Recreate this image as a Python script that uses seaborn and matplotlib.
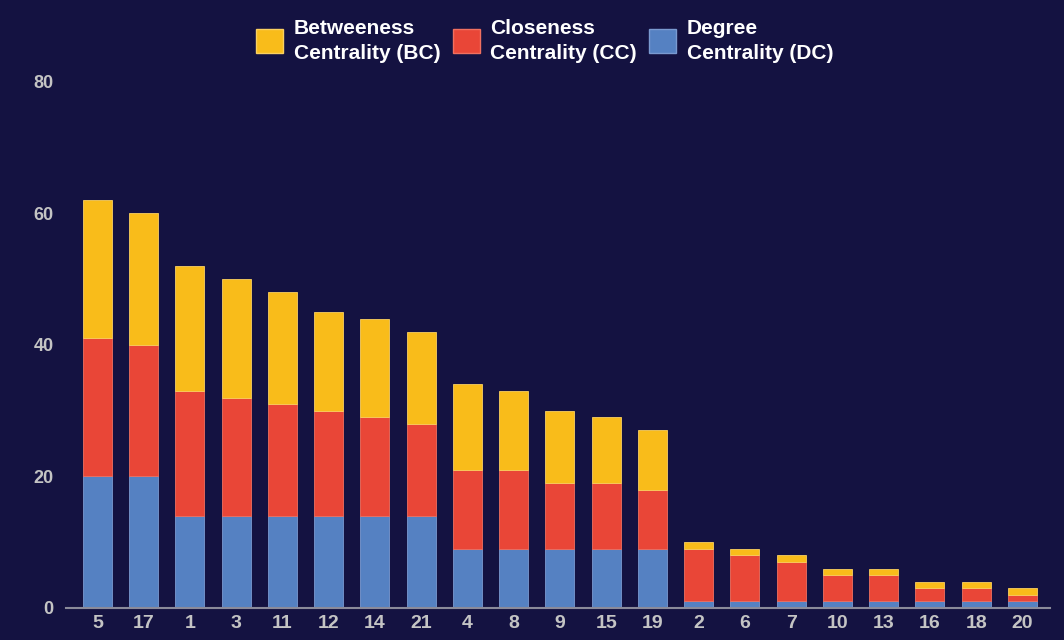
import numpy as np
import pandas as pd
import matplotlib
matplotlib.use('Agg')
import matplotlib.pyplot as plt
from matplotlib.patches import Patch
import seaborn as sns

# 节点编号 + 三种中心性得分
nodes = ['5', '17', '1', '3', '11', '12', '14', '21', '4', '8', '9', '15', '19',
         '2', '6', '7', '10', '13', '16', '18', '20']
dc = [20, 20, 14, 14, 14, 14, 14, 14, 9, 9, 9, 9, 9, 1, 1, 1, 1, 1, 1, 1, 1]
cc = [21, 20, 19, 18, 17, 16, 15, 14, 12, 12, 10, 10, 9, 8, 7, 6, 4, 4, 2, 2, 1]
bc = [21, 20, 19, 18, 17, 15, 15, 14, 13, 12, 11, 10, 9, 1, 1, 1, 1, 1, 1, 1, 1]

bg = '#141241'
c_dc = '#5581c2'
c_cc = '#e94637'
c_bc = '#f9bc1a'

df = pd.DataFrame({'node': nodes, 'DC': dc, 'CC': cc, 'BC': bc})
df['DC_CC'] = df['DC'] + df['CC']

sns.set_style('dark', {'axes.facecolor': bg, 'figure.facecolor': bg})
plt.rcParams['font.family'] = ['Liberation Sans', 'DejaVu Sans']

fig = plt.figure(figsize=(10.64, 6.4), dpi=100)
ax = fig.add_axes([0.062, 0.05, 0.925, 0.822])

sns.barplot(data=df, x='node', y='DC', color=c_dc, width=0.63, ax=ax,
            edgecolor='#7a9ad0', linewidth=0.6, saturation=1)
sns.barplot(data=df, x='node', y='CC', bottom=df['DC'], color=c_cc, width=0.63, ax=ax,
            edgecolor='#f07060', linewidth=0.6, saturation=1)
sns.barplot(data=df, x='node', y='BC', bottom=df['DC_CC'], color=c_bc, width=0.63, ax=ax,
            edgecolor='#fbd060', linewidth=0.6, saturation=1)

ax.set_ylim(0, 80)
ax.set_xlim(-0.68, 20.6)
ax.set_yticks([0, 20, 40, 60, 80])
ax.set_xlabel('')
ax.set_ylabel('')
for s in ['top', 'right', 'left']:
    ax.spines[s].set_visible(False)
ax.spines['bottom'].set_color('#8a8a9a')
ax.spines['bottom'].set_linewidth(1.5)
ax.tick_params(axis='y', colors='#c4c4c4', labelsize=13, length=0, pad=9)
ax.tick_params(axis='x', colors='#c4c4c4', labelsize=14, length=0, pad=5)
for t in ax.get_xticklabels() + ax.get_yticklabels():
    t.set_fontweight('bold')
ax.grid(False)

handles = [Patch(facecolor=c_bc, edgecolor='#fbd060'),
           Patch(facecolor=c_cc, edgecolor='#f07060'),
           Patch(facecolor=c_dc, edgecolor='#7a9ad0')]
labels = ['Betweeness\nCentrality (BC)', 'Closeness\nCentrality (CC)', 'Degree\nCentrality (DC)']
leg = fig.legend(handles, labels, loc='upper center', bbox_to_anchor=(0.512, 1.0), ncol=3,
                 frameon=False, prop={'size': 15, 'weight': 'bold'}, labelcolor='white',
                 handlelength=1.3, handleheight=1.4, handletextpad=0.5, columnspacing=0.6)
for t in leg.get_texts():
    t.set_linespacing(1.4)

fig.savefig('out.png', dpi=100, facecolor=bg)
